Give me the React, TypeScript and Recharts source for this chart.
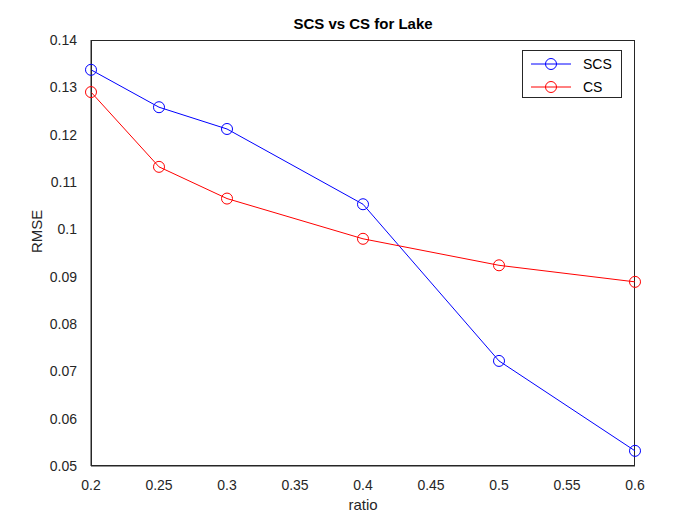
import { LineChart, Line, XAxis, YAxis, Legend } from "recharts";

const ratios = [0.2, 0.25, 0.3, 0.4, 0.5, 0.6];
const scs = [0.1337, 0.1258, 0.1212, 0.1053, 0.0722, 0.0532];
const cs = [0.129, 0.1132, 0.1065, 0.098, 0.0924, 0.0889];
const xTicks = [0.2, 0.25, 0.3, 0.35, 0.4, 0.45, 0.5, 0.55, 0.6];
const yTicks = [0.05, 0.06, 0.07, 0.08, 0.09, 0.1, 0.11, 0.12, 0.13, 0.14];

const data = ratios.map((r, i) => ({ ratio: r, SCS: scs[i], CS: cs[i] }));

const font = "'Liberation Sans', Arial, sans-serif";
const axisStroke = "#262626";
const tick = { fill: "#262626", fontSize: 14, fontFamily: font };

const LegendBox = () => (
  <div
    style={{
      position: "absolute",
      left: 522,
      top: 50,
      width: 98,
      height: 46,
      border: "1px solid #262626",
      background: "#fff",
      fontFamily: font,
      fontSize: 14,
      color: "#000",
    }}
  >
    {[
      ["SCS", "#0000ff"],
      ["CS", "#ff0000"],
    ].map(([name, c]) => (
      <div key={name} style={{ display: "flex", alignItems: "center", height: 21, marginTop: 2 }}>
        <svg width={56} height={14}>
          <line x1={8} x2={48} y1={7} y2={7} stroke={c} />
          <circle cx={28} cy={7} r={5.5} fill="none" stroke={c} />
        </svg>
        <span style={{ marginLeft: 4 }}>{name}</span>
      </div>
    ))}
  </div>
);

export default function App() {
  return (
    <div style={{ position: "relative", margin: -8, width: 700, height: 525, background: "#fff" }}>
      <div
        style={{
          position: "absolute",
          left: 91,
          width: 544,
          top: 15,
          textAlign: "center",
          fontFamily: font,
          fontWeight: "bold",
          fontSize: 15,
          color: "#000",
        }}
      >
        SCS vs CS for Lake
      </div>
      <div style={{ position: "absolute", left: 91, top: 40, width: 544, height: 426, border: "1px solid #262626", boxSizing: "border-box" }} />
      <LineChart width={700} height={525} data={data} margin={{ top: 40, right: 65, bottom: 29, left: 41 }}>
        <XAxis
          dataKey="ratio"
          type="number"
          domain={[0.2, 0.6]}
          ticks={xTicks}
          tick={tick}
          stroke={axisStroke}
          tickLine={false}
          tickMargin={8}
          height={30}
          label={{ value: "ratio", position: "insideBottom", offset: -14, fill: "#262626", fontSize: 15, fontFamily: font }}
        />
        <YAxis
          type="number"
          domain={[0.05, 0.14]}
          ticks={yTicks}
          tick={tick}
          stroke={axisStroke}
          tickLine={false}
          tickMargin={8}
          width={50}
          label={{ value: "RMSE", angle: -90, position: "insideLeft", offset: -4, fill: "#262626", fontSize: 15, fontFamily: font }}
        />
        <Legend content={() => null} />
        <Line dataKey="SCS" stroke="#0000ff" strokeWidth={1} isAnimationActive={false} dot={{ r: 5.5, fill: "none", stroke: "#0000ff", strokeWidth: 1 }} />
        <Line dataKey="CS" stroke="#ff0000" strokeWidth={1} isAnimationActive={false} dot={{ r: 5.5, fill: "none", stroke: "#ff0000", strokeWidth: 1 }} />
      </LineChart>
      <LegendBox />
    </div>
  );
}
